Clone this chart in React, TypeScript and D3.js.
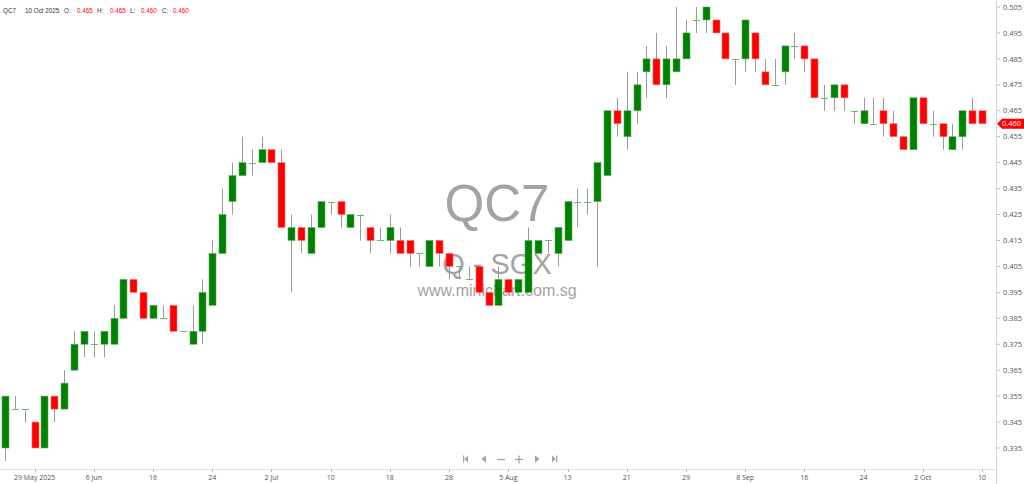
import React from 'react';
import * as d3 from 'd3';

// daily bars 26 May 2025 .. 10 Oct 2025
const opens = [
  0.335, 0.350, 0.350, 0.345, 0.335, 0.355, 0.350, 0.365, 0.375, 0.375,
  0.375, 0.375, 0.385, 0.400, 0.395, 0.385, 0.385, 0.390, 0.380, 0.375,
  0.380, 0.390, 0.410, 0.430, 0.440, 0.445, 0.445, 0.450, 0.445, 0.415,
  0.420, 0.410, 0.420, 0.430, 0.430, 0.420, 0.425, 0.420, 0.415, 0.415,
  0.415, 0.415, 0.410, 0.405, 0.415, 0.410, 0.405, 0.400, 0.405, 0.395,
  0.390, 0.400, 0.395, 0.395, 0.410, 0.415, 0.410, 0.415, 0.430, 0.430,
  0.430, 0.440, 0.465, 0.455, 0.465, 0.480, 0.485, 0.475, 0.480, 0.485,
  0.500, 0.500, 0.500, 0.495, 0.485, 0.485, 0.495, 0.480, 0.475, 0.480,
  0.490, 0.490, 0.485, 0.470, 0.470, 0.475, 0.465, 0.460, 0.460, 0.465,
  0.460, 0.455, 0.450, 0.470, 0.460, 0.460, 0.450, 0.455, 0.465, 0.465,
];
const highs = [
  0.355, 0.355, 0.350, 0.345, 0.355, 0.355, 0.365, 0.380, 0.380, 0.380,
  0.380, 0.390, 0.400, 0.400, 0.395, 0.390, 0.390, 0.390, 0.380, 0.390,
  0.400, 0.415, 0.435, 0.445, 0.455, 0.450, 0.455, 0.450, 0.450, 0.425,
  0.420, 0.425, 0.430, 0.430, 0.430, 0.425, 0.425, 0.420, 0.420, 0.425,
  0.420, 0.415, 0.410, 0.415, 0.415, 0.410, 0.405, 0.405, 0.405, 0.395,
  0.405, 0.400, 0.400, 0.420, 0.415, 0.415, 0.420, 0.430, 0.435, 0.435,
  0.445, 0.465, 0.470, 0.480, 0.480, 0.490, 0.495, 0.490, 0.505, 0.500,
  0.505, 0.505, 0.500, 0.495, 0.485, 0.500, 0.495, 0.485, 0.485, 0.490,
  0.495, 0.490, 0.485, 0.475, 0.475, 0.475, 0.465, 0.470, 0.470, 0.470,
  0.465, 0.455, 0.470, 0.470, 0.465, 0.460, 0.460, 0.465, 0.470, 0.465,
];
const lows = [
  0.330, 0.350, 0.345, 0.335, 0.335, 0.345, 0.350, 0.365, 0.370, 0.370,
  0.370, 0.375, 0.385, 0.395, 0.385, 0.385, 0.385, 0.380, 0.380, 0.375,
  0.375, 0.390, 0.410, 0.425, 0.440, 0.440, 0.445, 0.445, 0.420, 0.395,
  0.410, 0.410, 0.420, 0.425, 0.420, 0.420, 0.415, 0.410, 0.415, 0.410,
  0.410, 0.405, 0.405, 0.405, 0.405, 0.400, 0.400, 0.400, 0.395, 0.390,
  0.390, 0.395, 0.395, 0.395, 0.410, 0.410, 0.405, 0.415, 0.420, 0.425,
  0.405, 0.440, 0.455, 0.450, 0.460, 0.470, 0.475, 0.470, 0.480, 0.485,
  0.495, 0.495, 0.495, 0.485, 0.475, 0.480, 0.480, 0.475, 0.475, 0.475,
  0.485, 0.480, 0.470, 0.465, 0.465, 0.465, 0.460, 0.460, 0.460, 0.455,
  0.455, 0.450, 0.450, 0.460, 0.455, 0.450, 0.450, 0.450, 0.460, 0.460,
];
const closes = [
  0.355, 0.350, 0.350, 0.335, 0.355, 0.350, 0.360, 0.375, 0.380, 0.375,
  0.380, 0.385, 0.400, 0.395, 0.385, 0.390, 0.385, 0.380, 0.380, 0.380,
  0.395, 0.410, 0.425, 0.440, 0.445, 0.445, 0.450, 0.445, 0.420, 0.420,
  0.415, 0.420, 0.430, 0.430, 0.425, 0.425, 0.425, 0.415, 0.415, 0.420,
  0.410, 0.410, 0.410, 0.415, 0.410, 0.405, 0.405, 0.400, 0.395, 0.390,
  0.400, 0.395, 0.400, 0.415, 0.415, 0.415, 0.420, 0.430, 0.430, 0.430,
  0.445, 0.465, 0.460, 0.465, 0.475, 0.485, 0.475, 0.485, 0.485, 0.495,
  0.500, 0.505, 0.495, 0.485, 0.485, 0.500, 0.485, 0.475, 0.475, 0.490,
  0.490, 0.485, 0.470, 0.470, 0.475, 0.470, 0.465, 0.465, 0.460, 0.460,
  0.455, 0.450, 0.470, 0.460, 0.460, 0.455, 0.455, 0.465, 0.460, 0.460,
];

const dateTickIndex = [3, 9, 15, 21, 27, 33, 39, 45, 51, 57, 63, 69, 75, 81, 87, 93, 99];
const dateTickLabels = [
  '29 May 2025', '6 Jun', '16', '24', '2 Jul', '10', '18', '28', '5 Aug',
  '13', '21', '29', '8 Sep', '16', '24', '2 Oct', '10',
];
const priceTicks = [
  0.335, 0.345, 0.355, 0.365, 0.375, 0.385, 0.395, 0.405, 0.415,
  0.425, 0.435, 0.445, 0.455, 0.465, 0.475, 0.485, 0.495, 0.505,
];

const W = 1024;
const H = 484;
const plotRight = 996;
const plotBottom = 469;
const font = "'Open Sans', sans-serif";
const headFont = "'Liberation Sans', Arial, sans-serif";

const UP = '#008000';
const DOWN = '#ff0000';

export default function App() {
  const x = d3.scaleLinear().domain([0, closes.length - 1]).range([5, 982]);
  const y = d3.scaleLinear().domain([0.335, 0.505]).range([448, 7]);
  const bodyW = 7;
  const fmt = d3.format('.3f');
  const last = closes.length - 1;

  const navY = 459;
  const navGrey = '#a0a0a0';

  return (
    <div style={{ position: 'absolute', left: 0, top: 0 }}>
      <svg width={W} height={H} style={{ display: 'block', background: '#fff' }}>
        {/* watermark */}
        <g fill="#a3a3a3" fontFamily="'Liberation Sans', Arial, sans-serif" textAnchor="middle">
          <text x={497} y={221} fontSize={51}>QC7</text>
          <text x={497} y={274} fontSize={29}>Q - SGX</text>
          <text x={497} y={296} fontSize={16}>www.minichart.com.sg</text>
        </g>

        {/* frame */}
        <line x1={plotRight + 0.5} x2={plotRight + 0.5} y1={0} y2={H} stroke="#d6d6d6" />
        <line x1={0} x2={plotRight} y1={plotBottom + 0.5} y2={plotBottom + 0.5} stroke="#e2e2e2" />

        {/* candles */}
        <g>
          {closes.map((c, i) => {
            const cx = Math.round(x(i)) + 0.5;
            const o = opens[i];
            const top = y(Math.max(o, c));
            const bot = y(Math.min(o, c));
            return (
              <g key={i}>
                {highs[i] > lows[i] && (
                  <line x1={cx} x2={cx} y1={y(highs[i])} y2={y(lows[i])} stroke="#9a9a9a" strokeWidth={1} />
                )}
                {o === c ? (
                  <line x1={cx - bodyW / 2} x2={cx + bodyW / 2} y1={Math.round(top) + 0.5} y2={Math.round(top) + 0.5}
                    stroke="#6cb86c" strokeWidth={1} />
                ) : (
                  <rect x={cx - bodyW / 2} y={top} width={bodyW} height={bot - top}
                    fill={c > o ? UP : DOWN} stroke={c > o ? '#5fae5f' : '#ff7070'} strokeWidth={0.6} />
                )}
              </g>
            );
          })}
        </g>

        {/* price axis */}
        <g fontFamily={font} fontSize={7.5} fill="#555">
          {priceTicks.map((p) => (
            <g key={p}>
              <line x1={plotRight + 1} x2={plotRight + 4} y1={y(p)} y2={y(p)} stroke="#bbb" />
              <text x={1003} y={y(p)} dy="0.35em">{fmt(p)}</text>
            </g>
          ))}
        </g>

        {/* last price tag */}
        <g>
          <path
            d={`M${plotRight + 1},${y(closes[last])} L${plotRight + 6},${y(closes[last]) - 5} L${W},${y(closes[last]) - 5} L${W},${y(closes[last]) + 5} L${plotRight + 6},${y(closes[last]) + 5} Z`}
            fill={DOWN}
          />
          <text x={1002} y={y(closes[last])} dy="0.35em" fontFamily={font} fontSize={7.5} fill="#fff">
            {fmt(closes[last])}
          </text>
        </g>

        {/* date axis */}
        <g fontFamily={font} fontSize={7} fill="#555" textAnchor="middle">
          {dateTickIndex.map((idx, k) => (
            <g key={idx}>
              <line x1={Math.round(x(idx)) + 0.5} x2={Math.round(x(idx)) + 0.5} y1={plotBottom} y2={plotBottom + 3} stroke="#bbb" />
              <text x={x(idx)} y={480}>{dateTickLabels[k]}</text>
            </g>
          ))}
        </g>

        {/* navigation buttons */}
        <g fill={navGrey} stroke={navGrey}>
          <rect x={463} y={navY - 3.5} width={1.2} height={7} stroke="none" />
          <path d={`M468,${navY - 3.5} L468,${navY + 3.5} L464.5,${navY} Z`} stroke="none" />
          <path d={`M486,${navY - 3.5} L486,${navY + 3.5} L481.5,${navY} Z`} stroke="none" />
          <line x1={497} x2={505} y1={navY + 0.5} y2={navY + 0.5} strokeWidth={1.2} />
          <line x1={515} x2={523} y1={navY + 0.5} y2={navY + 0.5} strokeWidth={1.2} />
          <line x1={519} x2={519} y1={navY - 3.5} y2={navY + 4.5} strokeWidth={1.2} />
          <path d={`M535,${navY - 3.5} L535,${navY + 3.5} L539.5,${navY} Z`} stroke="none" />
          <path d={`M552,${navY - 3.5} L552,${navY + 3.5} L555.5,${navY} Z`} stroke="none" />
          <rect x={556} y={navY - 3.5} width={1.2} height={7} stroke="none" />
        </g>

        {/* header */}
        <g fontFamily={headFont} fontSize={6.3} fill="#333">
          <text x={3} y={13}>QC7</text>
          <text x={25} y={13}>10 Oct 2025</text>
          <text x={64} y={13}>O:</text>
          <text x={77} y={13} fill={DOWN}>{fmt(opens[last])}</text>
          <text x={97} y={13}>H:</text>
          <text x={110} y={13} fill={DOWN}>{fmt(highs[last])}</text>
          <text x={130} y={13}>L:</text>
          <text x={141} y={13} fill={DOWN}>{fmt(lows[last])}</text>
          <text x={162} y={13}>C:</text>
          <text x={173} y={13} fill={DOWN}>{fmt(closes[last])}</text>
        </g>
      </svg>
    </div>
  );
}
